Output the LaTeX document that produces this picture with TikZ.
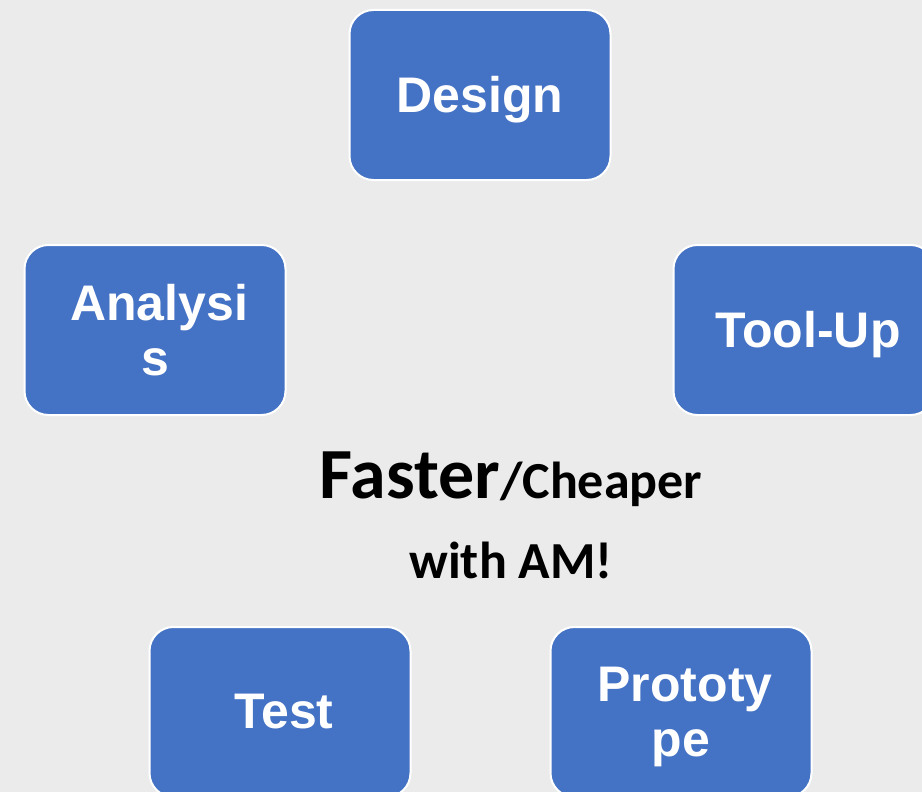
\documentclass[tikz,border=0pt]{standalone}
\usepackage{fontspec}
\setmainfont{Liberation Sans}
\newfontfamily\calfont{Carlito}
\definecolor{stepblue}{HTML}{4472C4}
\definecolor{pagegray}{HTML}{EBEBEB}
\newcommand{\lowertext}[2]{\raisebox{-#1}[\height][\depth]{#2}}
\tikzset{
  stepbox/.style={draw=white, line width=2pt, fill=stepblue, rounded corners=24pt,
                  minimum width=261pt, minimum height=170pt, text=white,
                  font=\fontsize{50}{55}\selectfont\bfseries, align=center}
}
\begin{document}
\begin{tikzpicture}[x=1pt, y=-1pt]
  \fill[pagegray] (0,0) rectangle (922,792);
  \useasboundingbox (0,0) rectangle (922,792);
  \node[stepbox] (design) at (480,95) {\lowertext{5pt}{Design}};
  \node[stepbox] (toolup) at (804,330) {\hspace*{8pt}\lowertext{5pt}{Tool-Up}};
  \node[stepbox] (analysis) at (155,330) {\hspace*{8pt}Analysi\\s};
  \node[stepbox] (test) at (280,712) {\hspace*{8pt}Test};
  \node[stepbox] (proto) at (681,712) {\hspace*{8pt}\lowertext{5pt}{Prototy}\\\lowertext{5pt}{pe}};
  \node[font=\calfont\bfseries\fontsize{52}{80}\selectfont, align=center] (center) at (511,515)
    {{\fontsize{72}{80}\selectfont Faster}/Cheaper\\
     with AM!};
\end{tikzpicture}
\end{document}
